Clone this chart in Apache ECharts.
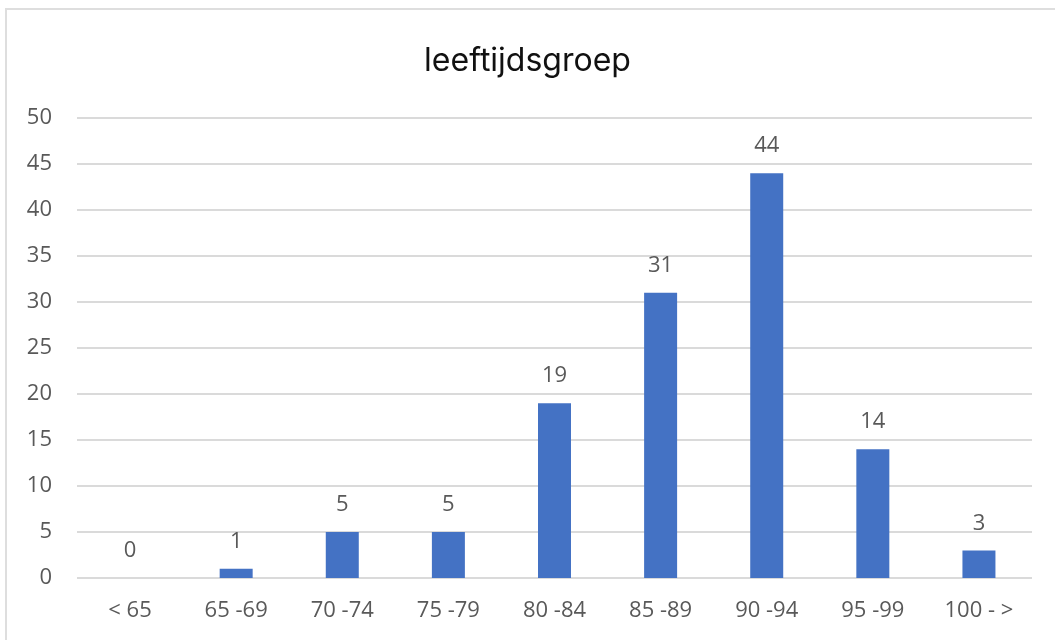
<!DOCTYPE html>
<html>
<head>
<meta charset="utf-8">
<script src="https://cdn.jsdelivr.net/npm/echarts@6/dist/echarts.min.js"></script>
<style>
  html, body { margin: 0; padding: 0; background: #fff; }
  #frame { position: absolute; left: 5px; top: 8px; width: 1050px; height: 632px;
           border-left: 2px solid #dedede; border-top: 2px solid #dedede; }
  #chart { position: absolute; left: 0; top: 0; width: 1055px; height: 640px; }
</style>
</head>
<body>
<div id="frame"></div>
<div id="chart"></div>
<script>
// leeftijdsgroepen en aantallen
const categorieen = ["< 65", "65 -69", "70 -74", "75 -79", "80 -84", "85 -89", "90 -94", "95 -99", "100 - >"];
const aantallen = [0, 1, 5, 5, 19, 31, 44, 14, 3];
const yTicks = [0, 50, 5]; // min, max, interval

const tekstKleur = "#595959";

const chart = echarts.init(document.querySelector("#chart"));
chart.setOption({
  animation: false,
  title: {
    text: "leeftijdsgroep",
    left: "center",
    top: 40,
    textStyle: { fontFamily: "Inter", fontWeight: "normal", fontSize: 32, color: "#111" }
  },
  grid: { left: 77, right: 23, top: 118, bottom: 62 },
  xAxis: {
    type: "category",
    data: categorieen,
    axisLine: { show: false },
    axisTick: { show: false },
    axisLabel: { color: tekstKleur, fontSize: 22, fontFamily: "Open Sans", margin: 22 }
  },
  yAxis: {
    type: "value",
    min: yTicks[0],
    max: yTicks[1],
    interval: yTicks[2],
    axisLabel: { color: tekstKleur, fontSize: 22, fontFamily: "Open Sans", margin: 25 },
    splitLine: { lineStyle: { color: "#dadada", width: 2 } }
  },
  series: [
    {
      type: "bar",
      data: aantallen,
      barWidth: 33,
      itemStyle: { color: "#4472C4" },
      label: {
        show: true,
        position: "top",
        distance: 16,
        color: tekstKleur,
        fontSize: 22,
        fontFamily: "Open Sans"
      }
    }
  ]
});
</script>
</body>
</html>
